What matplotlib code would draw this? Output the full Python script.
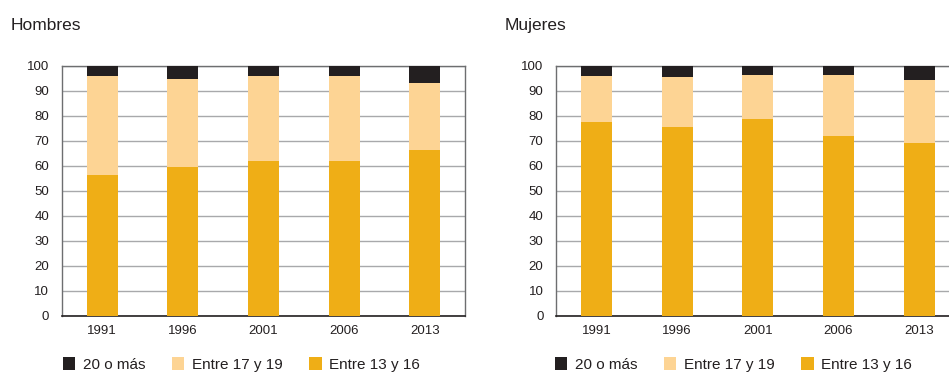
"""Hombres / Mujeres — stacked share by age group, 1991–2013."""

import matplotlib
matplotlib.use("Agg")

import matplotlib.pyplot as plt
import numpy as np

years = ["1991", "1996", "2001", "2006", "2013"]
series_labels = ["20 o más", "Entre 17 y 19", "Entre 13 y 16"]

# Percentages (each year sums to 100)
hombres_13_16 = [56.3, 59.6, 62.0, 62.0, 66.4]
hombres_17_19 = [39.7, 35.2, 34.0, 34.0, 26.8]
hombres_20_mas = [4.0, 5.2, 4.0, 4.0, 6.8]

mujeres_13_16 = [77.6, 75.6, 78.8, 72.0, 69.2]
mujeres_17_19 = [18.4, 20.0, 17.6, 24.4, 25.2]
mujeres_20_mas = [4.0, 4.4, 3.6, 3.6, 5.6]

C_DARK = "#231f20"
C_LIGHT = "#fdd494"
C_ORANGE = "#efae16"
C_GRID = "#a8a9ab"
C_SPINE = "#6d6e70"

FONT = ["Liberation Sans", "DejaVu Sans"]

fig = plt.figure(figsize=(9.49, 3.72), dpi=100)
W, H = 949, 372


def px_axes(left, top, width, height):
    return fig.add_axes([left / W, (H - top - height) / H, width / W, height / H])


def draw_panel(ax, title, title_x, low, mid, high, legend_x):
    x = np.arange(len(years))
    low = np.array(low)
    mid = np.array(mid)
    high = np.array(high)
    bw = 0.385

    b_low = ax.bar(x, low, bw, color=C_ORANGE, zorder=3)
    b_mid = ax.bar(x, mid, bw, bottom=low, color=C_LIGHT, zorder=3)
    b_high = ax.bar(x, high, bw, bottom=low + mid, color=C_DARK, zorder=3)

    ax.set_xlim(-0.5, 4.5)
    ax.set_ylim(0, 100)
    ax.set_yticks(range(0, 101, 10))
    ax.set_xticks(x)
    ax.set_xticklabels(years)
    ax.grid(axis="y", color=C_GRID, linewidth=1.0, zorder=0)
    ax.tick_params(axis="both", length=0, labelsize=9.5, labelcolor="#231f20")
    ax.tick_params(axis="y", pad=9)
    ax.tick_params(axis="x", pad=7)
    for lab in ax.get_xticklabels() + ax.get_yticklabels():
        lab.set_family(FONT)

    for side in ("left", "top", "right"):
        ax.spines[side].set_color(C_SPINE)
        ax.spines[side].set_linewidth(1.0)
    ax.spines["bottom"].set_color(C_DARK)
    ax.spines["bottom"].set_linewidth(1.2)

    fig.text(title_x / W, (H - 30) / H, title, fontsize=12.5, color="#231f20",
             family=FONT, va="baseline", ha="left")

    ax.legend([b_high, b_mid, b_low], series_labels, ncol=3, frameon=False,
              loc="center left", bbox_to_anchor=(legend_x / W, (H - 364.5) / H),
              bbox_transform=fig.transFigure, borderpad=0, borderaxespad=0,
              handlelength=0.8, handleheight=0.86, handletextpad=0.5,
              columnspacing=1.75, prop={"family": FONT, "size": 11})
    for t in ax.get_legend().get_texts():
        t.set_color("#231f20")


ax_h = px_axes(61.7, 66, 403.5, 249.7)
draw_panel(ax_h, "Hombres", 11, hombres_13_16, hombres_17_19, hombres_20_mas, 63)

ax_m = px_axes(556, 66, 403.5, 249.7)
draw_panel(ax_m, "Mujeres", 505, mujeres_13_16, mujeres_17_19, mujeres_20_mas, 555)

fig.savefig("out.png", dpi=100, facecolor="white")
